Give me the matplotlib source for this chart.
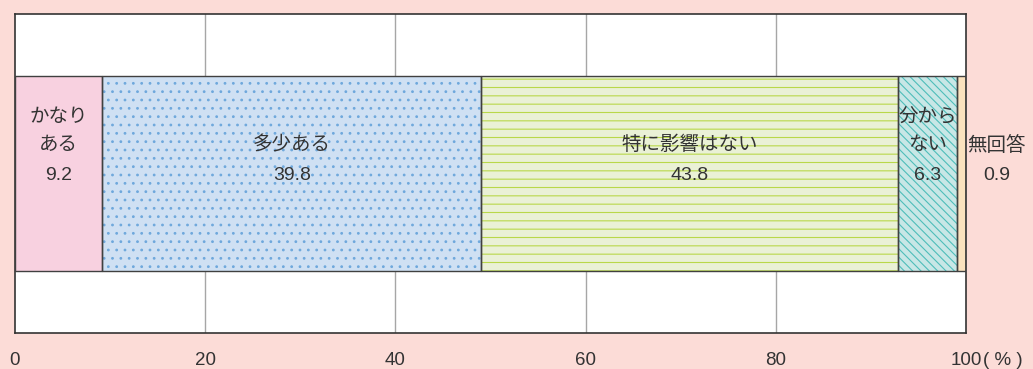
import matplotlib.pyplot as plt

categories = ['かなり\nある', '多少ある', '特に影響はない', '分から\nない', '無回答']
values = [9.2, 39.8, 43.8, 6.3, 0.9]
ticks = [0, 20, 40, 60, 80, 100]
tick_labels = ['0', '20', '40', '60', '80', '100']

face_colors = ['#F8D1E0', '#CFE0F3', '#EAF1D6', '#C8E7E6', '#FBE2BE']
hatch_colors = ['#F8D1E0', '#6FA8DC', '#B9D84A', '#4FBDBA', '#F5B066']
hatches = [None, '..', '--', '\\\\\\\\', None]

plt.rcParams['font.family'] = ['Liberation Sans', 'Noto Sans CJK JP', 'DejaVu Sans']
plt.rcParams['hatch.linewidth'] = 0.8

bg = '#FCDCD7'
txt = '#333333'

fig = plt.figure(figsize=(10.33, 3.69), dpi=100, facecolor=bg)
ax = fig.add_axes([15 / 1033, 1 - 333 / 369, 951 / 1033, 319 / 369])
ax.set_facecolor('white')

ax.set_xlim(0, 100)
ax.set_ylim(0, 1)

# grid lines behind the bar
for t in ticks[1:-1]:
	ax.axvline(t, color='#A6A6A6', lw=1, zorder=0)

bar_h = 195 / 319
line_step = 0.088
left = 0
for i in range(len(values)):
	v = values[i]
	ax.barh(0.5, v, left=left, height=bar_h, color=face_colors[i],
		edgecolor=hatch_colors[i], hatch=hatches[i], lw=0, zorder=2)
	ax.barh(0.5, v, left=left, height=bar_h, fill=False,
		edgecolor='#404040', lw=1, zorder=3)
	cx = left + v / 2
	if i == len(values) - 1:
		cx = 103.2
	ax.text(cx, 0.495, '%.1f' % v, ha='center', va='center', fontsize=14,
		color=txt, zorder=4)
	lines = categories[i].split('\n')
	for k, s in enumerate(reversed(lines)):
		ax.text(cx, 0.589 + k * line_step, s, ha='center', va='center',
			fontsize=14, color=txt, zorder=4, clip_on=False)
	left += v

for s in ax.spines.values():
	s.set_color('#333333')
	s.set_linewidth(1.2)

pad = 13.5
ax.set_yticks([])
ax.set_xticks(ticks)
ax.set_xticklabels(tick_labels, fontsize=13.5, color=txt)
ax.tick_params(axis='x', length=0, pad=pad)
ax.annotate('( % )', xy=(100, 0), xycoords=('data', 'axes fraction'),
	xytext=(12.5, -pad), textcoords='offset points', ha='left', va='top',
	fontsize=13.5, color=txt, annotation_clip=False)

fig.savefig('out.png', dpi=100, facecolor=bg)
